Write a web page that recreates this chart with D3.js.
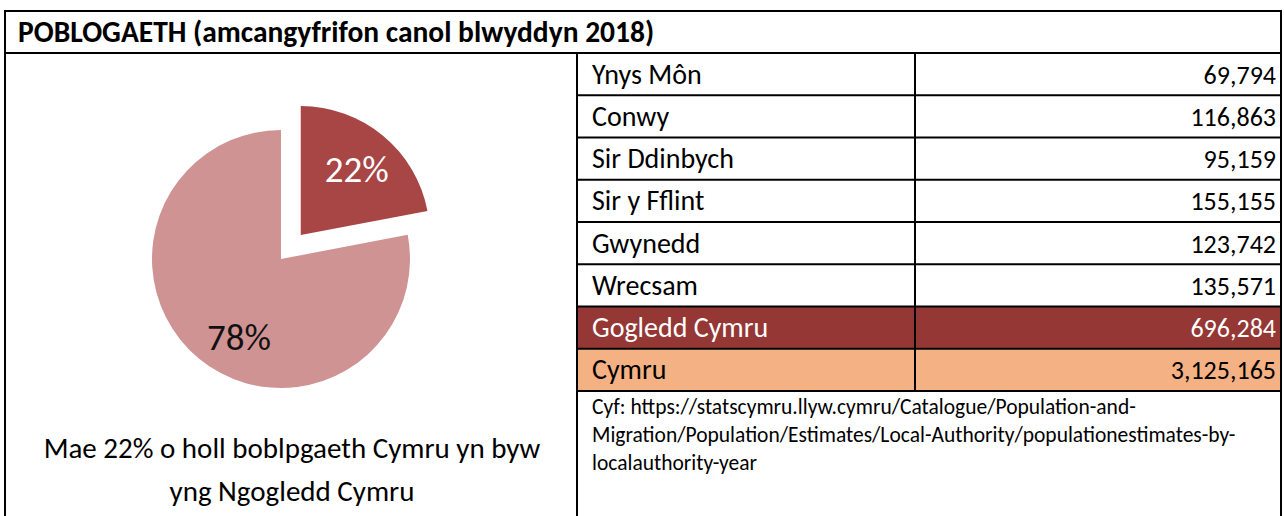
<!DOCTYPE html>
<html>
<head>
<meta charset="utf-8">
<script src="https://cdn.jsdelivr.net/npm/d3@7"></script>
<style>
  body { margin: 0; background: #fff; }
  text { font-family: Carlito, Calibri, Lato, "Open Sans", sans-serif; }
</style>
</head>
<body>
<div id="chart"></div>
<script>
// Population figures (mid-year estimates 2018)
const areas = ["Ynys Môn", "Conwy", "Sir Ddinbych", "Sir y Fflint", "Gwynedd", "Wrecsam", "Gogledd Cymru", "Cymru"];
const populations = [69794, 116863, 95159, 155155, 123742, 135571, 696284, 3125165];
const pieLabels = ["22%", "78%"];
const pieShares = [22, 78];
const title = "POBLOGAETH (amcangyfrifon canol blwyddyn 2018)";
const caption = ["Mae 22% o holl boblpgaeth Cymru yn byw", "yng Ngogledd Cymru"];
const sourceLines = [
  "Cyf: https://statscymru.llyw.cymru/Catalogue/Population-and-",
  "Migration/Population/Estimates/Local-Authority/populationestimates-by-",
  "localauthority-year"
];

const width = 1284, height = 516;
const box = { left: 5, right: 1281, top: 11, titleBottom: 53, split: 577, col: 915 };

const svg = d3.select("#chart").append("svg")
  .attr("width", width)
  .attr("height", height);

// row scale for the table
const y = d3.scaleBand().domain(areas).range([box.titleBottom, 391]).padding(0);

// highlighted row fills
const rowFill = d => d === "Gogledd Cymru" ? "#953735" : d === "Cymru" ? "#f4b183" : "none";
const rowText = d => d === "Gogledd Cymru" ? "#fff" : "#000";

svg.append("g")
  .selectAll("rect")
  .data(areas.filter(d => rowFill(d) !== "none"))
  .join("rect")
  .attr("x", box.split)
  .attr("y", d => y(d))
  .attr("width", box.right - box.split)
  .attr("height", y.bandwidth())
  .attr("fill", rowFill);

// table text
const rows = svg.append("g")
  .selectAll("g")
  .data(areas)
  .join("g")
  .attr("transform", d => `translate(0,${y(d) + y.bandwidth() / 2})`);

rows.append("text")
  .attr("x", 592)
  .attr("dy", "0.34em")
  .attr("font-size", 28)
  .attr("fill", rowText)
  .text(d => d);

rows.append("text")
  .attr("x", 1276)
  .attr("dy", "0.36em")
  .attr("text-anchor", "end")
  .attr("font-size", 26)
  .attr("fill", rowText)
  .text((d, i) => d3.format(",")(populations[i]));

// grid lines
const lines = svg.append("g").attr("stroke", "#000").attr("stroke-width", 2);
areas.forEach((d, i) => {
  if (i === 0) return;
  lines.append("line")
    .attr("x1", box.split).attr("x2", box.right)
    .attr("y1", y(d)).attr("y2", y(d));
});
lines.append("line")
  .attr("x1", box.split).attr("x2", box.right)
  .attr("y1", y.range()[1]).attr("y2", y.range()[1]);
lines.append("line")
  .attr("x1", box.col).attr("x2", box.col)
  .attr("y1", box.titleBottom).attr("y2", y.range()[1]);
lines.append("line")
  .attr("x1", box.split).attr("x2", box.split)
  .attr("y1", box.titleBottom).attr("y2", height + 5);
lines.append("line")
  .attr("x1", box.left).attr("x2", box.right)
  .attr("y1", box.titleBottom).attr("y2", box.titleBottom);
lines.append("path")
  .attr("fill", "none")
  .attr("d", `M${box.left},${height + 5}V${box.top}H${box.right}V${height + 5}`);

// title
svg.append("text")
  .attr("x", 18)
  .attr("y", 42)
  .attr("font-size", 29.5)
  .attr("font-weight", "bold")
  .text(title);

// source
svg.append("g")
  .selectAll("text")
  .data(sourceLines)
  .join("text")
  .attr("x", 592)
  .attr("y", (d, i) => 414 + i * 28)
  .attr("font-size", 21.5)
  .text(d => d);

// pie
const r = 129;
const cx = 281, cy = 259;
const pie = d3.pie().sort(null).value(d => d);
const arc = d3.arc().innerRadius(0).outerRadius(r);
const labelArc = d3.arc().innerRadius(r * 0.68).outerRadius(r * 0.68);
const pieColors = ["#a84545", "#d09393"];
const labelNudge = [[0, 2], [14, 10]];
const explode = 31;

const slices = svg.append("g")
  .attr("transform", `translate(${cx},${cy})`)
  .selectAll("g")
  .data(pie(pieShares))
  .join("g")
  .attr("transform", (d, i) => {
    if (i !== 0) return null;
    const a = (d.startAngle + d.endAngle) / 2;
    return `translate(${Math.sin(a) * explode},${-Math.cos(a) * explode})`;
  });

slices.append("path")
  .attr("d", arc)
  .attr("fill", (d, i) => pieColors[i]);

slices.append("text")
  .attr("transform", (d, i) => {
    const [lx, ly] = labelArc.centroid(d);
    return `translate(${lx + labelNudge[i][0]},${ly + labelNudge[i][1]})`;
  })
  .attr("text-anchor", "middle")
  .attr("dy", "0.35em")
  .attr("font-size", 37)
  .attr("fill", (d, i) => i === 0 ? "#fff" : "#111")
  .text((d, i) => pieLabels[i]);

// caption under the pie
svg.append("g")
  .selectAll("text")
  .data(caption)
  .join("text")
  .attr("x", 292)
  .attr("y", (d, i) => 448 + i * 43)
  .attr("dy", "0.35em")
  .attr("text-anchor", "middle")
  .attr("font-size", 29)
  .text(d => d);
</script>
</body>
</html>
